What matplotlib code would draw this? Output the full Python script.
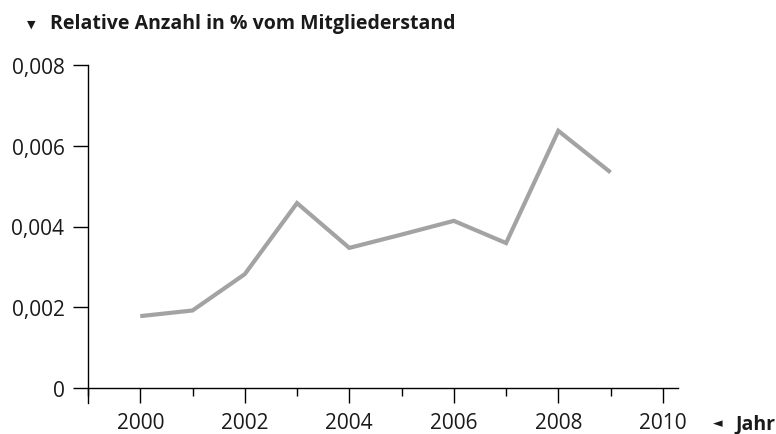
import matplotlib
matplotlib.use("Agg")
import matplotlib.pyplot as plt
from matplotlib.ticker import FuncFormatter, MultipleLocator

years = [2000, 2001, 2002, 2003, 2004, 2005, 2006, 2007, 2008, 2009]
values = [0.00178, 0.00192, 0.00282, 0.00458, 0.00347, 0.00380, 0.00414, 0.00359, 0.00637, 0.00534]
yticks = [0, 0.002, 0.004, 0.006, 0.008]
xticks = [2000, 2002, 2004, 2006, 2008, 2010]
title = "Relative Anzahl in % vom Mitgliederstand"
xlabel = "Jahr"

plt.rcParams['font.family'] = ['Open Sans', 'DejaVu Sans']

W, H = 776, 435
fig = plt.figure(figsize=(W / 100, H / 100), dpi=100)
L, R, T, B = 88, 678, 66, 389
ax = fig.add_axes([L / W, (H - B) / H, (R - L) / W, (B - T) / H])

ax.plot(years, values, color='#a3a3a3', lw=3.0, solid_joinstyle='miter', solid_capstyle='butt')

ax.set_xlim(1999, 2010.29)
ax.set_ylim(0, 0.008)

for s in ['top', 'right']:
    ax.spines[s].set_visible(False)
ax.spines['left'].set_bounds(0, 0.008)
ax.spines['bottom'].set_linewidth(1.0)
ax.spines['left'].set_linewidth(1.0)

# extend y axis line below the x axis
ax.plot([0, 0], [-15 / (B - T), 0], transform=ax.transAxes, color='black', lw=1.0, clip_on=False)

ax.set_yticks(yticks)
ax.yaxis.set_major_formatter(FuncFormatter(lambda v, p: "0" if v == 0 else f"{v:.3f}".replace('.', ',')))
ax.set_xticks(xticks)
ax.xaxis.set_minor_locator(MultipleLocator(1))
ax.tick_params(axis='y', direction='out', length=11, width=1.0, labelsize=15, pad=6, colors='black')
ax.tick_params(axis='x', which='major', direction='out', length=11, width=1.0, labelsize=15, pad=6)
ax.tick_params(axis='x', which='minor', direction='out', length=5.8, width=1.0)
for lab in ax.get_xticklabels() + ax.get_yticklabels():
    lab.set_color('#1a1a1a')

fig.text(31 / W, 1 - 25 / H, "\u25BC", fontsize=8, va='center', ha='center', family=['DejaVu Sans'], color='#1a1a1a')
fig.text(50 / W, 1 - 29 / H, title, fontsize=14, fontweight='bold', va='baseline', ha='left', color='#1a1a1a')
fig.text(718 / W, 1 - 424 / H, "\u25C4", fontsize=9, va='center', ha='center', family=['DejaVu Sans'], color='#1a1a1a')
fig.text(735 / W, 1 - 429 / H, xlabel, fontsize=14, fontweight='bold', va='baseline', ha='left', color='#1a1a1a')

fig.savefig("out.png", dpi=100)
